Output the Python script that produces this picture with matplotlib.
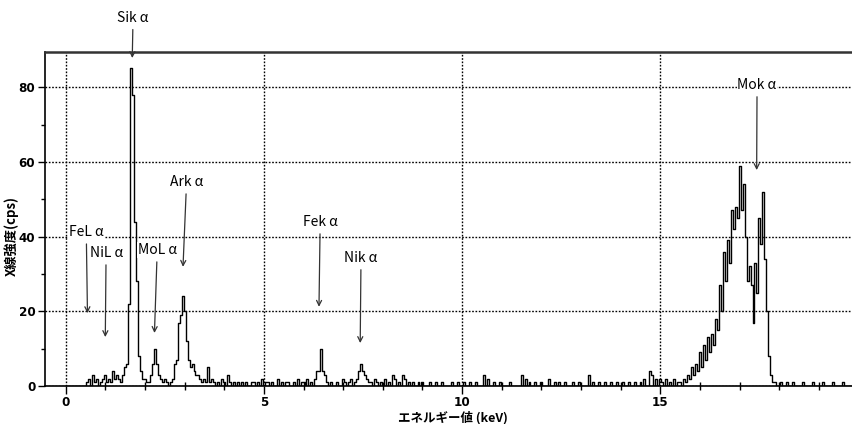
import matplotlib
matplotlib.use("Agg")
import matplotlib.pyplot as plt
from matplotlib.ticker import MultipleLocator
import numpy as np

plt.rcParams['font.family'] = ['Noto Sans CJK JP', 'DejaVu Sans']

# spectrum: bin centres (keV) and counts (cps) of the non-empty bins, 0.05 keV bins
bin_kev = [
    0.55, 0.60, 0.70, 0.75, 0.80, 0.90, 0.95, 1.00, 1.05, 1.10, 1.15, 1.20, 1.25, 1.30, 1.35, 1.40, 1.45, 1.50,
    1.55, 1.60, 1.65, 1.70, 1.75, 1.80, 1.85, 1.90, 1.95, 2.00, 2.05, 2.10,
    2.15, 2.20, 2.25, 2.30, 2.35, 2.40, 2.45, 2.50, 2.55, 2.65, 2.70, 2.75,
    2.80, 2.85, 2.90, 2.95, 3.00, 3.05, 3.10, 3.15, 3.20, 3.25, 3.30, 3.35, 3.40, 3.45, 3.50, 3.55,
    3.60, 3.65, 3.70, 3.75, 3.85, 3.95, 4.00, 4.10, 4.15, 4.25, 4.35, 4.45, 4.55, 4.70, 4.75, 4.85,
    4.95, 5.05, 5.10, 5.20, 5.35, 5.45, 5.55, 5.60, 5.75, 5.85, 5.95, 6.00, 6.10, 6.20,
    6.30, 6.35, 6.40, 6.45, 6.50, 6.55, 6.60, 6.70, 6.85, 7.00, 7.05, 7.15, 7.20,
    7.30, 7.35, 7.40, 7.45, 7.50, 7.55, 7.60, 7.65, 7.70, 7.80, 7.85, 7.95, 8.05, 8.15, 8.25, 8.30,
    8.40, 8.50, 8.55, 8.65, 8.75, 8.90, 9.00, 9.20, 9.35, 9.50, 9.75, 9.90, 10.05, 10.20, 10.35,
    10.55, 10.65, 10.80, 10.95, 11.20, 11.50, 11.60, 11.70, 11.85, 12.00, 12.20, 12.35, 12.45,
    12.60, 12.80, 12.95, 13.20, 13.30, 13.45, 13.60, 13.75, 13.90, 14.05, 14.20, 14.35, 14.50,
    14.60, 14.75, 14.80, 14.90, 15.00, 15.05, 15.15, 15.25, 15.35, 15.45,
    15.50, 15.60, 15.65, 15.70, 15.75, 15.80, 15.85, 15.90, 15.95, 16.00, 16.05, 16.10, 16.15,
    16.20, 16.25, 16.30, 16.35, 16.40, 16.45, 16.50, 16.55, 16.60, 16.65, 16.70, 16.75, 16.80,
    16.85, 16.90, 16.95, 17.00, 17.05, 17.10, 17.15, 17.20, 17.25, 17.30, 17.35, 17.40, 17.45,
    17.50, 17.55, 17.60, 17.65, 17.70, 17.75, 17.80, 17.85, 17.90,
    18.05, 18.20, 18.35, 18.60, 18.85, 19.10, 19.35, 19.60,
]
bin_cps = [
    1, 2, 3, 1, 2, 1, 2, 3, 1, 2, 1, 4, 2, 3, 2, 1, 3, 5,
    6, 22, 85, 78, 44, 28, 8, 4, 2, 2, 1, 1,
    3, 6, 10, 6, 3, 2, 1, 2, 1, 1, 2, 6,
    7, 17, 19, 24, 20, 12, 7, 5, 6, 4, 3, 3, 2, 1, 2, 1,
    5, 1, 2, 1, 1, 2, 1, 3, 1, 1, 1, 1, 1, 1, 1, 1,
    2, 1, 1, 1, 2, 1, 1, 1, 1, 2, 1, 1, 2, 1,
    2, 4, 4, 10, 4, 3, 1, 1, 1, 2, 1, 1, 2,
    1, 2, 4, 6, 4, 3, 2, 1, 1, 2, 1, 1, 2, 1, 3, 2,
    1, 3, 2, 1, 1, 1, 1, 1, 1, 1, 1, 1, 1, 1, 1,
    3, 2, 1, 1, 1, 3, 2, 1, 1, 1, 2, 1, 1,
    1, 1, 1, 3, 1, 1, 1, 1, 1, 1, 1, 1, 1,
    2, 4, 3, 2, 2, 1, 2, 1, 2, 1,
    1, 2, 1, 3, 2, 5, 3, 6, 4, 9, 5, 11, 7,
    13, 9, 14, 11, 18, 15, 27, 20, 36, 28, 39, 33, 47,
    42, 48, 45, 59, 47, 54, 40, 28, 32, 27, 17, 33, 25,
    45, 38, 52, 34, 20, 8, 3, 1, 1,
    1, 1, 1, 1, 1, 1, 1, 1,
]

# peak labels: text, arrow tip (keV, cps), text centre (keV, cps)
peak_names = ['Sik α', 'FeL α', 'NiL α', 'MoL α', 'Ark α', 'Fek α', 'Nik α', 'Mok α']
tip_kev = [1.68, 0.55, 1.00, 2.24, 2.96, 6.39, 7.43, 17.43]
tip_cps = [87.8, 19.5, 13.1, 14.2, 31.9, 21.2, 11.5, 57.8]
text_kev = [1.70, 0.52, 1.02, 2.31, 3.05, 6.42, 7.45, 17.44]
text_cps = [98.6, 41.2, 35.6, 36.4, 54.6, 43.9, 34.3, 80.6]

energy = np.round(np.arange(0, 19.95, 0.05), 2)
counts = np.zeros_like(energy)
for e, c in zip(bin_kev, bin_cps):
    counts[int(round(e / 0.05))] = c

fig = plt.figure(figsize=(8.53, 4.24), dpi=100)
ax = fig.add_axes([0.0528, 0.0896, 0.9472, 0.7877])

ax.step(energy, counts, where='mid', color='black', linewidth=1.0)

ax.set_xlim(-0.52, 19.86)
ax.set_ylim(0, 89.4)
ax.xaxis.set_major_locator(MultipleLocator(5))
ax.xaxis.set_minor_locator(MultipleLocator(1))
ax.yaxis.set_major_locator(MultipleLocator(20))
ax.yaxis.set_minor_locator(MultipleLocator(10))
ax.grid(which='major', linestyle=(0, (1.2, 1.2)), color='black', linewidth=1.0)

ax.tick_params(axis='x', which='major', direction='out', length=6, width=1.0, pad=1)
ax.tick_params(axis='x', which='minor', direction='inout', length=6, width=1.0)
ax.tick_params(axis='y', which='major', direction='out', length=5, width=1.0, pad=2)
ax.tick_params(axis='y', which='minor', direction='out', length=3, width=1.0)
for lab in ax.get_xticklabels() + ax.get_yticklabels():
    lab.set_fontfamily(['DejaVu Sans'])
    lab.set_fontstretch('condensed')
    lab.set_fontweight('bold')
    lab.set_fontsize(9.5)

ax.spines['right'].set_visible(False)
ax.spines['top'].set_linewidth(1.8)
ax.spines['top'].set_color('#333333')
ax.spines['left'].set_linewidth(1.2)
ax.spines['bottom'].set_linewidth(1.2)

ax.set_xlabel('エネルギー値 (keV)', fontsize=9, fontweight='bold')
ax.xaxis.set_label_coords(0.505, -0.075)
ax.set_ylabel('X線強度(cps)', fontsize=9.5, fontweight='bold')
ax.yaxis.set_label_coords(-0.033, 0.45)

for name, tx, ty, lx, ly in zip(peak_names, tip_kev, tip_cps, text_kev, text_cps):
    ax.annotate(name, xy=(tx, ty), xytext=(lx, ly), ha='center', va='center',
                fontsize=10, annotation_clip=False,
                bbox=dict(boxstyle='square,pad=0.05', fc='white', ec='none'),
                arrowprops=dict(arrowstyle='->', color='#333333', lw=0.9,
                                shrinkA=3, shrinkB=0, mutation_scale=9))

fig.savefig('out.png', dpi=100)
